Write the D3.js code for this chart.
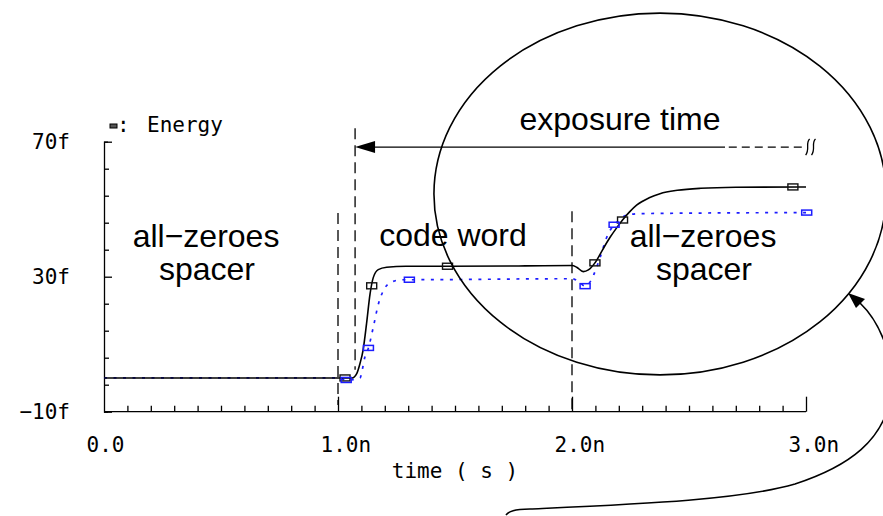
<!DOCTYPE html>
<html>
<head>
<meta charset="utf-8">
<script src="https://cdn.jsdelivr.net/npm/d3@7"></script>
<style>
  html, body { margin: 0; padding: 0; background: #fff; }
  svg { display: block; }
  .lab { font-family: "DejaVu Sans Mono", monospace; font-size: 21px;
         font-variant-numeric: slashed-zero; font-feature-settings: "zero" 1; fill: #000; }
  .big { font-family: "Liberation Sans", Arial, sans-serif; font-size: 32px; fill: #000; }
</style>
</head>
<body>
<svg id="chart" width="883" height="516"></svg>
<script>
// Time axis in ns, energy in fF-units (f)
const xDomain = [0, 3];
const yDomain = [-10, 70];
const xMajorTicks = [0, 1, 2, 3];
const yMajorTicks = [-10, 30, 70];
const yMinorStep = 8;
const xMinorStep = 0.1;

// Black trace (solid)
const blackTime   = [0, 1.0, 1.06, 1.08, 1.094, 1.107, 1.122, 1.137, 1.151, 1.172, 1.208, 1.29, 1.47, 1.8, 2.0, 2.02, 2.048, 2.07, 2.098, 2.13, 2.162, 2.19, 2.216, 2.246, 2.276, 2.33, 2.376, 2.45, 2.55, 2.7, 3.0];
const blackEnergy = [0, 0, 0, 1.3, 4.3, 8.2, 16.1, 24.9, 29.8, 32.1, 32.8, 33.1, 33.1, 33.2, 33.3, 32.8, 31.5, 32.0, 34.1, 37.9, 41.6, 44.4, 46.8, 49.2, 51.2, 53.4, 54.6, 55.6, 56.2, 56.5, 56.6];
const blackMarkTime   = [1.03, 1.144, 1.468, 2.098, 2.216, 2.944];
const blackMarkEnergy = [0, 27.3, 33.1, 34.1, 46.8, 56.6];

// Blue trace (dotted)
const blueTime   = [0, 1.0, 1.035, 1.07, 1.094, 1.115, 1.13, 1.151, 1.173, 1.194, 1.222, 1.272, 1.305, 2.0, 2.03, 2.056, 2.075, 2.091, 2.12, 2.148, 2.18, 2.198, 2.234, 2.3, 3.0];
const blueEnergy = [0, 0, -0.6, -0.5, 0.0, 6.2, 8.9, 15.1, 22.0, 25.9, 28.2, 29.1, 29.1, 29.4, 28.5, 27.2, 28.2, 30.3, 35.7, 41.6, 45.4, 46.5, 48.3, 48.7, 49.0];
const blueMarkTime   = [1.035, 1.13, 1.305, 2.056, 2.18, 3.003];
const blueMarkEnergy = [-0.6, 8.9, 29.1, 27.2, 45.4, 49.0];

// Phase boundaries (dashed verticals): time, top and bottom energy
const boundaryTime = [1.0, 1.073, 2.0];
const boundaryTop  = [48.9, 74.0, 49.4];
const boundaryBot  = [-8.0, 2.4, -9.5];

const svg = d3.select("#chart");
const x = d3.scaleLinear().domain(xDomain).range([104, 806]);
const y = d3.scaleLinear().domain(yDomain).range([411.7, 141.7]);
const fmtE = d => (d < 0 ? "\u2212" + Math.abs(d) : d) + "f";

// ---- axes ----
const yMinor = d3.range(yDomain[0], yDomain[1] + 0.001, yMinorStep).filter(v => !yMajorTicks.includes(v));
const xMinor = d3.range(1, 30).map(i => i * xMinorStep).filter(v => !xMajorTicks.some(m => Math.abs(m - v) < 1e-6));

const gy = svg.append("g").attr("transform", `translate(${x(0)},0)`);
gy.call(d3.axisLeft(y).tickValues(yMajorTicks).tickSizeInner(-8).tickSizeOuter(-4).tickPadding(34)
        .tickFormat(fmtE));
const gyMinor = svg.append("g").attr("transform", `translate(${x(0)},0)`);
gyMinor.call(d3.axisLeft(y).tickValues(yMinor).tickSizeInner(-5).tickSizeOuter(0).tickFormat(""));
gyMinor.select(".domain").remove();

const gx = svg.append("g").attr("transform", `translate(0,${y(-10)})`);
gx.call(d3.axisBottom(x).tickValues(xMajorTicks.filter(v => v > 0)).tickSizeInner(-15).tickSizeOuter(0)
        .tickPadding(25).tickFormat(d => d.toFixed(1) + "n"));
gx.select(".domain").attr("d", `M${x(0)},0H${x(3)}`);
const gx0 = svg.append("g").attr("transform", `translate(0,${y(-10)})`);
gx0.call(d3.axisBottom(x).tickValues([0]).tickSizeInner(0).tickSizeOuter(0).tickPadding(25).tickFormat(d => d.toFixed(1)));
gx0.select(".domain").remove();
const gxMinor = svg.append("g").attr("transform", `translate(0,${y(-10)})`);
gxMinor.call(d3.axisBottom(x).tickValues(xMinor).tickSizeInner(-6).tickSizeOuter(0).tickFormat(""));
gxMinor.select(".domain").remove();

svg.selectAll(".domain, .tick line").attr("stroke", "#000").attr("stroke-width", 1.3);
svg.selectAll(".tick text").attr("font-family", null).attr("font-size", null).attr("class", "lab");
gx.selectAll(".tick text").attr("text-anchor", "start").attr("dx", -18);
gx0.selectAll(".tick text").attr("text-anchor", "start").attr("dx", -18);

svg.append("text").attr("class", "lab").attr("x", 455).attr("y", 478).attr("text-anchor", "middle")
   .text("time ( s )");

// legend
svg.append("rect").attr("x", 110).attr("y", 124).attr("width", 7).attr("height", 4)
   .attr("fill", "#555").attr("stroke", "#000").attr("stroke-width", 1);
svg.append("text").attr("class", "lab").attr("x", 117).attr("y", 132).text(":");
svg.append("text").attr("class", "lab").attr("x", 147).attr("y", 132).text("Energy");

// ---- phase boundaries ----
svg.append("g").selectAll("line").data(boundaryTime).join("line")
   .attr("x1", d => x(d)).attr("x2", d => x(d))
   .attr("y1", (d, i) => y(boundaryTop[i])).attr("y2", (d, i) => y(boundaryBot[i]))
   .attr("stroke", "#000").attr("stroke-width", 1.3).attr("stroke-dasharray", "11,6");

// ---- traces ----
const lineGen = d3.line().x(d => x(d[0])).y(d => y(d[1])).curve(d3.curveMonotoneX);
const blackPts = blackTime.map((t, i) => [t, blackEnergy[i]]);
const bluePts = blueTime.map((t, i) => [t, blueEnergy[i]]);

svg.append("path").datum(bluePts).attr("d", lineGen).attr("fill", "none")
   .attr("stroke", "#1c1cff").attr("stroke-width", 1.7).attr("stroke-dasharray", "3,6.5");
svg.append("path").datum(blackPts).attr("d", lineGen).attr("fill", "none")
   .attr("stroke", "#000").attr("stroke-width", 1.6);

svg.append("g").selectAll("rect").data(blackMarkTime).join("rect")
   .attr("x", d => x(d) - 5).attr("y", (d, i) => y(blackMarkEnergy[i]) - 3)
   .attr("width", 10).attr("height", 6)
   .attr("fill", "none").attr("stroke", "#111").attr("stroke-width", 1.4);
svg.append("g").selectAll("rect").data(blueMarkTime).join("rect")
   .attr("x", d => x(d) - 5).attr("y", (d, i) => y(blueMarkEnergy[i]) - 2.5)
   .attr("width", 10).attr("height", 5)
   .attr("fill", "none").attr("stroke", "#1c1cff").attr("stroke-width", 1.5);

// ---- phase labels ----
const big = (tx, ty, s) => svg.append("text").attr("class", "big").attr("x", tx).attr("y", ty)
                              .attr("text-anchor", "middle").text(s);
big(206, 247, "all\u2212zeroes");
big(207, 280, "spacer");
big(453, 246, "code word");
big(703, 247, "all\u2212zeroes");
big(704, 280, "spacer");
big(620, 130, "exposure time");

// ---- exposure-time arrow ----
const arrowE = 68.4;
const ay = y(arrowE);
const tip = x(1.073);
svg.append("line").attr("x1", tip + 18).attr("x2", x(2.654)).attr("y1", ay).attr("y2", ay)
   .attr("stroke", "#000").attr("stroke-width", 1.4);
svg.append("path").attr("d", `M${tip},${ay}L${tip + 20},${ay - 6}L${tip + 20},${ay + 6}Z`).attr("fill", "#000");
svg.append("line").attr("x1", x(2.67)).attr("x2", x(2.985)).attr("y1", ay).attr("y2", ay)
   .attr("stroke", "#000").attr("stroke-width", 1.3).attr("stroke-dasharray", "8,5");
// continuation squiggles
[x(3.005), x(3.03)].forEach(sx => {
  svg.append("path").attr("d", `M${sx + 2.5},${ay - 8} C${sx - 2},${ay - 4} ${sx + 3},${ay + 2} ${sx - 1.5},${ay + 8}`)
     .attr("fill", "none").attr("stroke", "#000").attr("stroke-width", 1.3);
});

// ---- ellipse around the exposure window ----
svg.append("ellipse").attr("cx", x(2.376)).attr("cy", y(54.5))
   .attr("rx", x(0.966) - x(0)).attr("ry", y(0) - y(53.6))
   .attr("fill", "none").attr("stroke", "#000").attr("stroke-width", 1.6);

// ---- curved pointer ----
svg.append("path")
   .attr("d", "M506,515 C509,511 514,509.5 530,509 C640,504 740,500 795,484 C850,466 884,440 891,395 C896,360 880,322 860,303")
   .attr("fill", "none").attr("stroke", "#000").attr("stroke-width", 1.6);
svg.append("path").attr("d", "M848,293 L865,299 L856,308 Z").attr("fill", "#000");
</script>
</body>
</html>
